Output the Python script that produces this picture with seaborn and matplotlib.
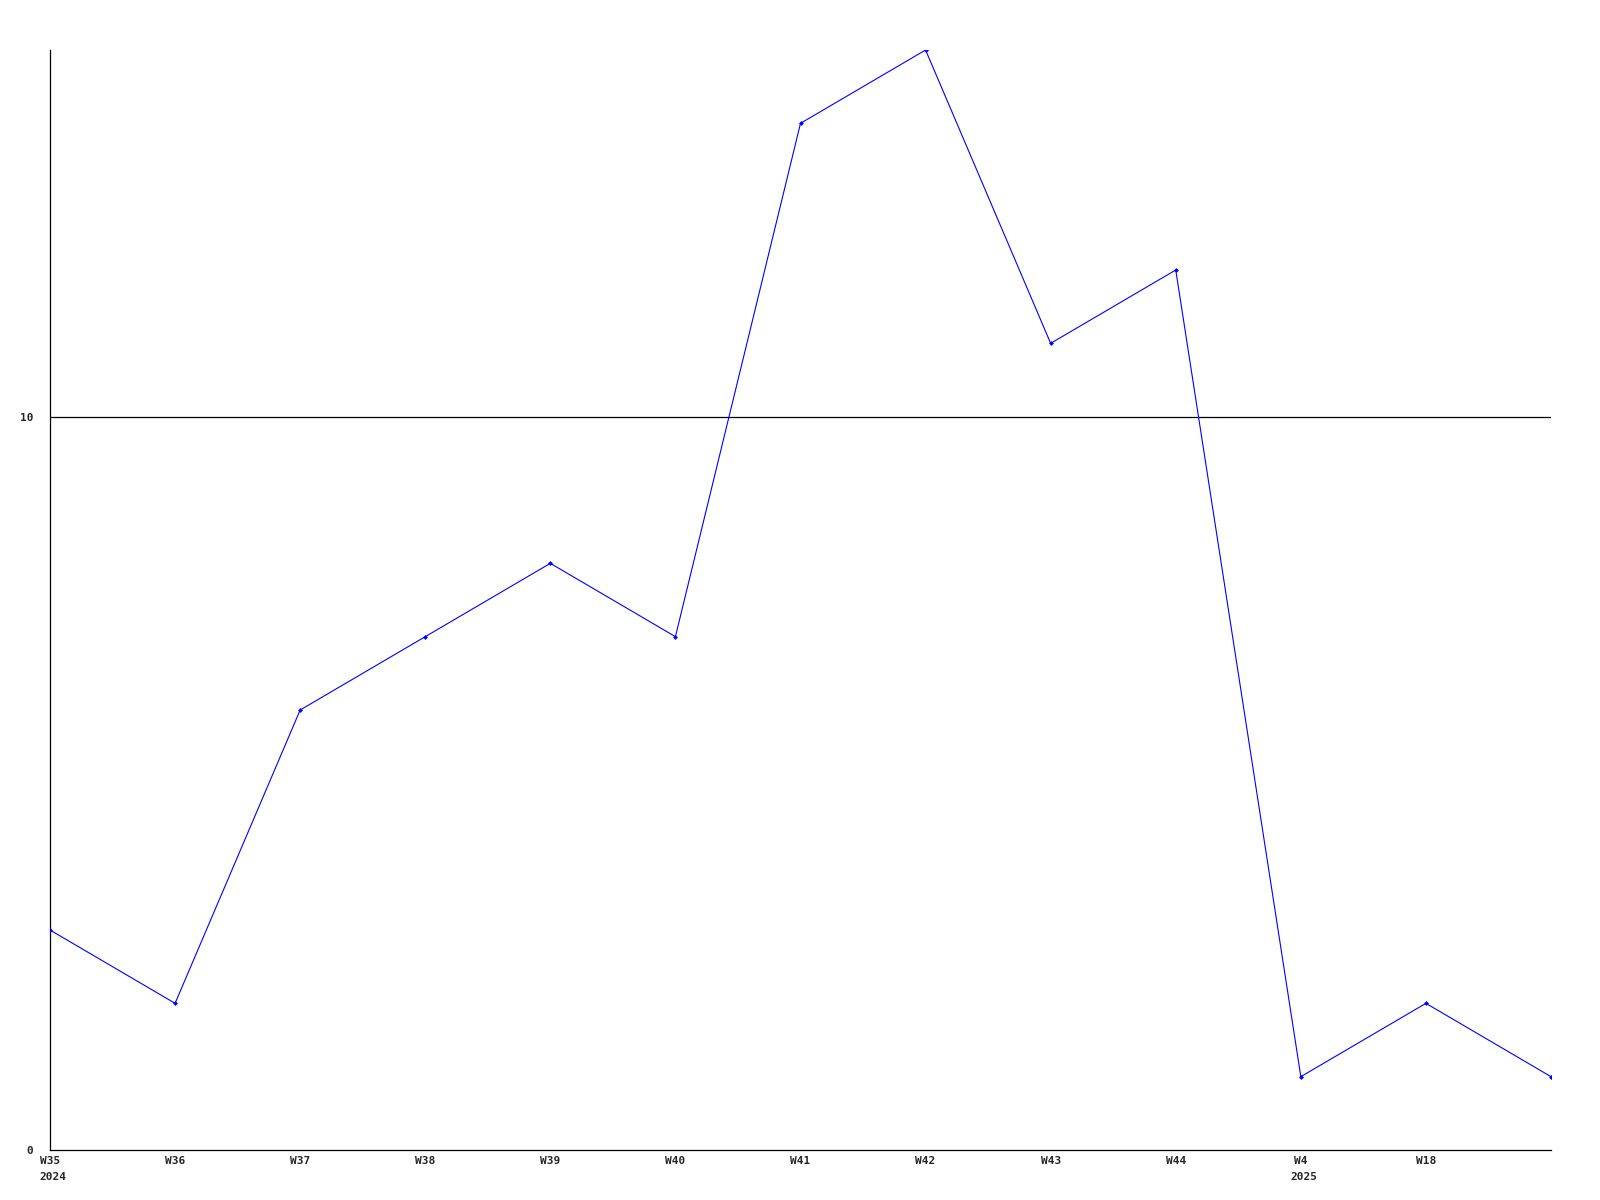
import matplotlib
matplotlib.use("Agg")
import matplotlib.pyplot as plt
import seaborn as sns
import pandas as pd

weeks = ["W35", "W36", "W37", "W38", "W39", "W40", "W41", "W42", "W43", "W44", "W4", "W18", ""]
values = [3, 2, 6, 7, 8, 7, 14, 15, 11, 12, 1, 2, 1]
year_labels = {0: "2024", 10: "2025"}
y_ticks = [0, 10]

sns.set_style("white")
plt.rcParams['font.family'] = ['DejaVu Sans Mono', 'DejaVu Sans']

df = pd.DataFrame({"pos": list(range(len(values))), "value": values})

fig = plt.figure(figsize=(16, 12), dpi=100)
ax = fig.add_axes([50/1600, 1 - 1150/1200, (1551 - 50)/1600, 1100/1200])

ax.axhline(10, color="black", linewidth=0.9, zorder=1)
sns.lineplot(data=df, x="pos", y="value", ax=ax, color="#0000ff", linewidth=0.8,
             marker="D", markersize=2.5, markeredgewidth=0, zorder=3)

ax.set_xlim(0, len(values) - 1)
ax.set_ylim(0, 15)
ax.set_xticks(range(len(weeks)))
ax.set_xticklabels(weeks, fontsize=8, fontweight="bold")
ax.set_yticks(y_ticks)
ax.set_yticklabels([str(t) for t in y_ticks], fontsize=8, fontweight="bold")
ax.tick_params(axis="both", length=0, pad=4)
ax.tick_params(axis="y", pad=12)
ax.set_xlabel("")
ax.set_ylabel("")

for s in ["top", "right"]:
    ax.spines[s].set_visible(False)
for s in ["left", "bottom"]:
    ax.spines[s].set_color("black")
    ax.spines[s].set_linewidth(0.9)

for i, yr in year_labels.items():
    ax.annotate(yr, xy=(i, 0), xycoords="data", xytext=(-7.5, -16),
                textcoords="offset points", ha="left", va="top",
                fontsize=8, fontweight="bold", annotation_clip=False)

fig.savefig("out.png", dpi=100, facecolor="white")
